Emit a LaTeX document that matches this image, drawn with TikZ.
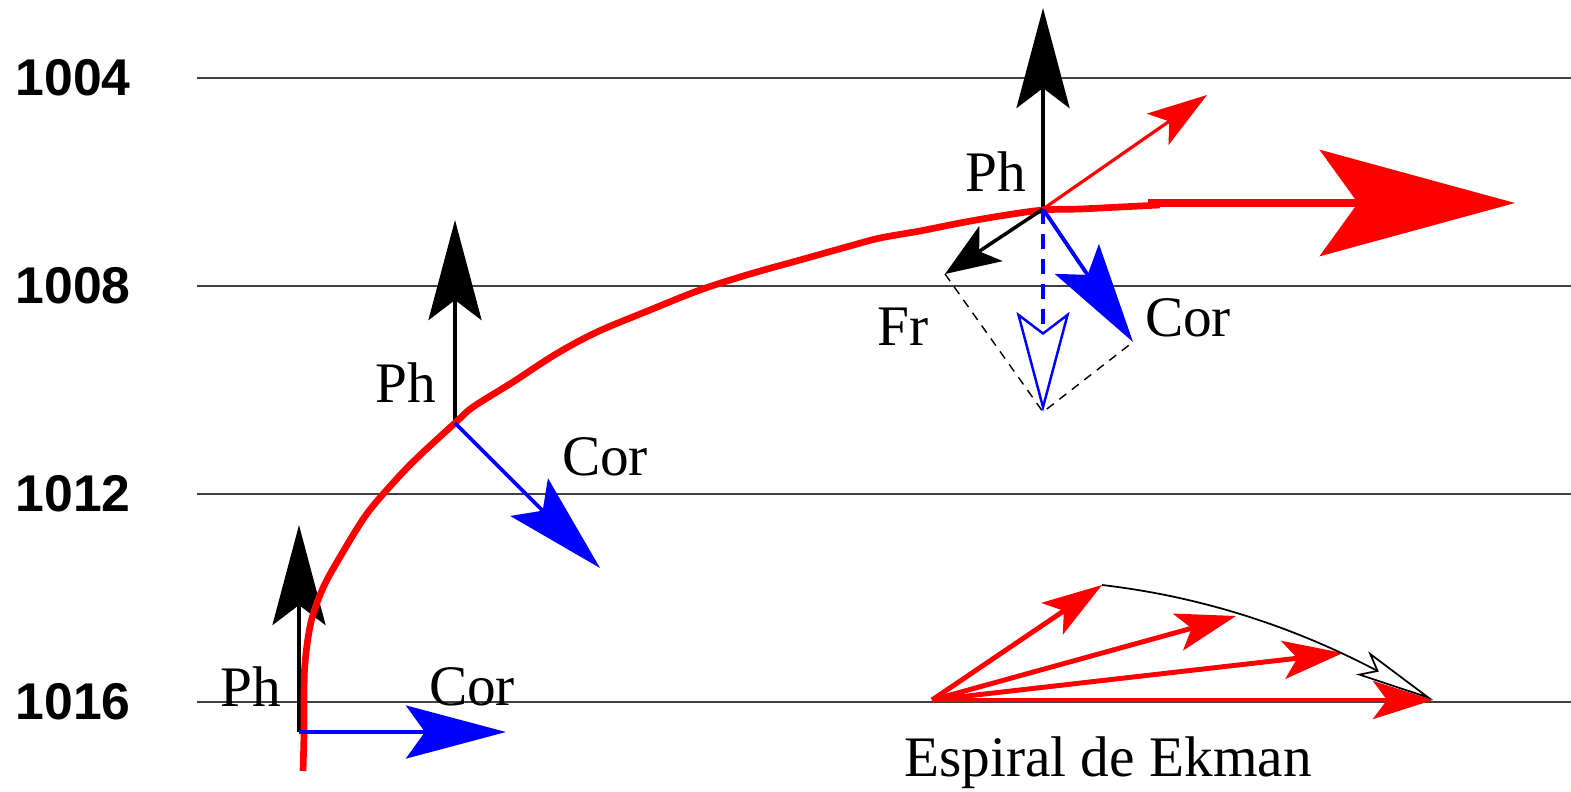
\documentclass[tikz,border=0pt]{standalone}
\usepackage{fontspec}
\setmainfont{Liberation Serif}
\setsansfont{Liberation Sans}
\usetikzlibrary{arrows.meta}

\begin{document}
\begin{tikzpicture}[x=0.01cm, y=-0.01cm,
        level/.style={draw=black!75, line width=0.45pt},
        press/.style={anchor=west, inner sep=0pt, font=\sffamily\bfseries\fontsize{14.7}{15}\selectfont},
        lbl/.style={inner sep=0pt, font=\fontsize{16.3}{17}\selectfont},
        grad/.style={-{Stealth[length=1cm, width=0.53cm, inset=0.2cm]}, line width=1.25pt, black},
        cor/.style={-{Stealth[length=1cm, width=0.53cm, inset=0.19cm]}, line width=1.1pt, blue},
        fric/.style={-{Stealth[length=0.55cm, width=0.42cm, inset=0.14cm]}, line width=1pt, black},
        wind/.style={red, line width=1.9pt},
        vel/.style={-{Stealth[length=0.6cm, width=0.38cm, inset=0.14cm]}, line width=1.4pt, red},
        helper/.style={black, line width=0.4pt, dash pattern=on 2.5pt off 2pt}
    ]
        \useasboundingbox (0,0) rectangle (1571,791);

        % isobars
        \foreach \p/\yy in {1004/78, 1008/286, 1012/494, 1016/702}{
            \node[press] (lev\p) at (15,\yy) {\p};
            \draw[level] (197,\yy) -- (1571,\yy);
        }

        \coordinate (A) at (299,732);
        \coordinate (B) at (455,423);
        \coordinate (C) at (1043,209);
        \coordinate (Aph) at (299,525);
        \coordinate (Bph) at (455,220);
        \coordinate (Cph) at (1043,8);
        \coordinate (Acor) at (506,732);
        \coordinate (Bcor) at (600,568);
        \coordinate (Ccor) at (1133,342);
        \coordinate (Cfr) at (945,274);
        \coordinate (Cres) at (1043,412);
        \coordinate (Cvel) at (1207,95);
        \coordinate (w0) at (1148,203);
        \coordinate (w1) at (1515,203);

        \draw[grad] (A) -- (Aph);
        \draw[grad] (B) -- (Bph);
        \draw[grad] (C) -- (Cph);

        % wind path
        \draw[wind] plot[smooth, tension=0.55] coordinates {(303,771) (304,733) (304,700) (305,663) (311,622) (323,588) (340,557) (366,515) (393,483) (417,458) (455,423) (473,407) (513,382) (556,354) (597,332) (650,310) (700,290) (750,274) (800,260) (850,246) (880,238) (920,231) (960,223) (1000,216) (1043,210) (1080,209) (1120,207) (1160,205)};
        \draw[wind, line width=2pt, -{Stealth[length=1.95cm, width=1.06cm, inset=0.38cm]}] (w0) -- (w1);

        \draw[cor] (A) -- (Acor);
        \draw[cor] (B) -- (Bcor);
        \draw[cor] (C) -- (Ccor);
        \draw[fric] (C) -- (Cfr);
        \draw[vel, line width=0.9pt] (C) -- (Cvel);

        \draw[helper] (Cfr) -- (Cres) -- (Ccor);
        \draw[blue, line width=1.1pt, dash pattern=on 4.3pt off 2.8pt,
            -{Stealth[open, length=1cm, width=0.53cm, inset=0.2cm, line width=0.7pt]}] (C) -- (Cres);

        \node[lbl] (phA) at (251,687) {Ph};
        \node[lbl] (corA) at (472,687) {Cor};
        \node[lbl] (phB) at (406,383) {Ph};
        \node[lbl] (corB) at (605,457) {Cor};
        \node[lbl] (phC) at (996,172) {Ph};
        \node[lbl] (frC) at (903,327) {Fr};
        \node[lbl] (corC) at (1188,318) {Cor};

        % Ekman spiral
        \coordinate (e0) at (932,700);
        \coordinate (e1) at (1102,585);
        \coordinate (e2) at (1236,616);
        \coordinate (e3) at (1343,653);
        \coordinate (e4) at (1433,700);
        \foreach \e in {e1, e2, e3, e4}
            \draw[vel] (e0) -- (\e);
        \draw[black, line width=0.5pt, -{Stealth[open, fill=white, length=0.8cm, width=0.26cm, inset=0.16cm]}]
            (e1) .. controls (1232,600) and (1328,645) .. (e4);
        \node[lbl, anchor=base] (ekman) at (1108,776) {Espiral de Ekman};
    \end{tikzpicture}
\end{document}
